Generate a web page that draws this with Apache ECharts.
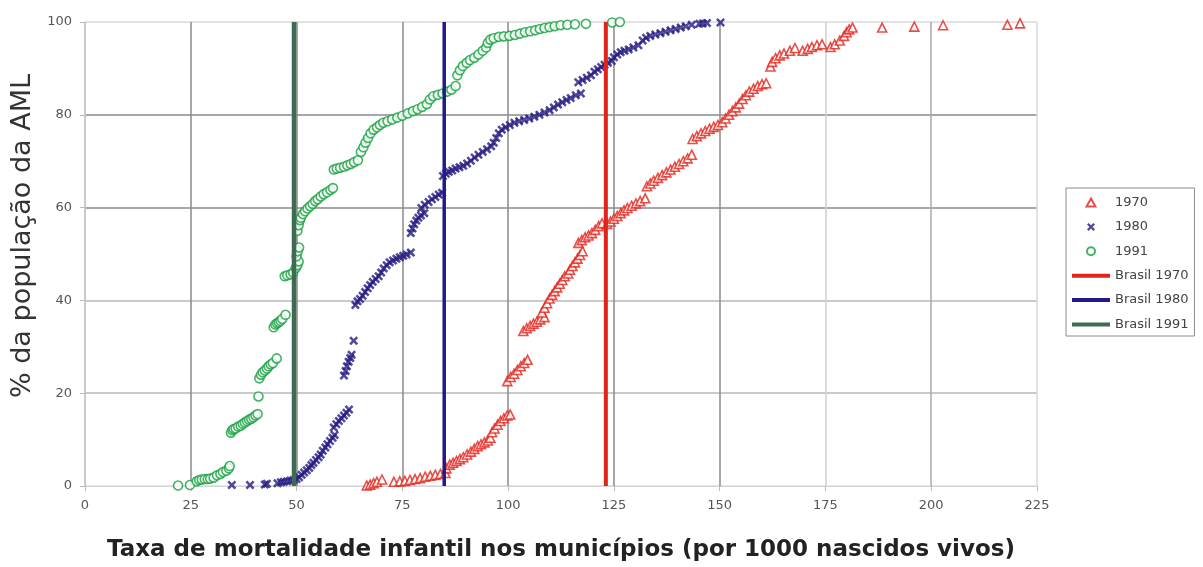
<!DOCTYPE html>
<html>
<head>
<meta charset="utf-8">
<script src="https://cdn.jsdelivr.net/npm/echarts@6/dist/echarts.min.js"></script>
<style>
  html, body { margin: 0; padding: 0; background: #fff; }
  #chart { width: 1203px; height: 567px; }
</style>
</head>
<body>
<div id="chart"></div>
<script>
// Taxa de mortalidade infantil (por 1000 nascidos vivos) vs. % acumulada da população da AML
const xTicks = [0, 25, 50, 75, 100, 125, 150, 175, 200, 225];
const yTicks = [0, 20, 40, 60, 80, 100];

const seriesNames = ['1970', '1980', '1991', 'Brasil 1970', 'Brasil 1980', 'Brasil 1991'];

// Municípios em 1970: [taxa, % acumulada da população]
const mun1970 = [
  [66.6,0.1],[67.4,0.3],[68.2,0.6],[69.0,0.9],[70.2,1.4],
  [73.0,0.9],[74.4,1.0],[75.6,1.1],[76.8,1.3],[78.0,1.5],[79.2,1.7],[80.4,2.0],[81.6,2.2],[82.8,2.4],[84.0,2.6],[85.2,2.8],
  [85.4,3.8],[86.2,4.6],[87.0,5.0],[87.8,5.4],[88.6,5.8],
  [89.4,6.2],[90.3,6.8],[91.2,7.4],[92.0,8.0],[92.8,8.6],[93.6,9.0],[94.4,9.4],[95.2,9.8],[95.8,10.4],
  [96.2,11.6],[96.8,12.4],[97.5,13.2],[98.2,14.0],[99.0,14.6],[99.8,15.2],[100.5,15.4],
  [99.8,22.6],[100.6,23.5],[101.4,24.2],[102.2,25.0],[103.0,25.8],[103.8,26.5],[104.6,27.2],
  [103.6,33.4],[104.4,34.0],[105.2,34.5],[106.0,35.0],[106.8,35.4],[107.6,35.9],[108.6,36.4],
  [108.0,37.4],[108.6,38.4],[109.2,39.4],[109.8,40.4],[110.4,41.2],[111.0,42.0],[111.6,42.8],[112.2,43.6],[112.8,44.4],[113.4,45.2],[114.2,45.8],
  [114.6,46.6],[115.2,47.4],[115.8,48.2],[116.4,49.0],[117.0,49.8],[117.6,50.6],
  [116.6,52.4],[117.4,53.0],[118.2,53.6],[119.0,54.0],[119.8,54.5],[120.6,55.2],[121.4,56.0],[122.2,56.6],
  [123.4,56.5],[124.2,57.0],[125.0,57.6],[125.8,58.2],[126.6,58.8],[127.4,59.4],[128.2,59.9],[129.2,60.4],[130.2,60.9],[131.2,61.4],[132.4,62.0],
  [132.8,64.6],[133.6,65.2],[134.4,65.8],[135.4,66.4],[136.4,67.0],[137.4,67.6],[138.4,68.2],[139.4,68.8],[140.4,69.4],[141.4,70.0],[142.4,70.6],[143.4,71.4],
  [143.6,74.8],[144.6,75.4],[145.6,76.0],[146.6,76.5],[147.6,77.0],[148.6,77.4],[149.6,77.8],[150.6,78.4],[151.4,79.2],[152.2,80.0],[153.0,80.8],
  [153.8,81.6],[154.6,82.4],[155.4,83.4],[156.2,84.2],[157.0,85.0],[158.0,85.6],[159.0,86.2],[160.0,86.6],[161.0,86.8],
  [162.0,90.4],[162.4,91.4],[163.2,92.2],[164.2,92.8],[165.2,93.2],[166.6,93.8],[167.8,94.4],
  [169.6,93.8],[170.8,94.2],[171.8,94.6],[173.0,95.0],[174.2,95.2],
  [176.2,94.6],[177.2,95.2],[178.4,96.0],[179.4,97.0],[180.0,97.8],[180.6,98.4],[181.4,98.8],
  [188.4,98.8],[196.0,99.0],[202.8,99.3],[218.0,99.4],[221.0,99.7]
];

// Municípios em 1980
const mun1980 = [
  [34.7,0.2],[39.0,0.2],[42.5,0.3],[43.0,0.5],[45.5,0.6],[46.3,0.8],[47.0,0.9],[47.8,1.0],[48.6,1.2],[49.3,1.3],[50.0,1.5],
  [50.6,1.9],[51.2,2.4],[51.8,2.9],[52.4,3.4],[53.0,3.9],[53.5,4.5],[54.0,5.0],[54.6,5.6],[55.2,6.2],
  [55.7,6.8],[56.2,7.6],[56.8,8.3],[57.3,9.0],[57.9,9.7],[58.5,10.4],[59.0,11.0],
  [58.8,12.6],[59.4,13.3],[60.0,14.0],[60.6,14.6],[61.2,15.2],[61.8,15.8],[62.4,16.5],
  [61.2,23.8],[61.6,24.8],[61.9,25.8],[62.3,26.8],[62.7,27.6],[63.0,28.3],
  [63.5,31.3],
  [63.9,39.0],[64.4,39.8],[65.0,40.3],[65.6,41.0],[66.2,41.8],[66.8,42.6],[67.4,43.3],[68.0,44.0],[68.7,44.6],[69.4,45.2],[70.0,46.0],
  [70.6,46.9],[71.3,47.6],[72.0,48.2],[72.8,48.6],[73.6,49.0],[74.4,49.3],[75.2,49.6],[76.0,49.9],[77.0,50.3],
  [77.0,54.5],[77.4,55.5],[77.8,56.4],[78.3,57.2],[78.8,57.8],[79.4,58.3],[80.2,58.8],
  [79.5,59.9],[80.3,60.6],[81.2,61.2],[82.0,61.8],[82.8,62.3],[83.6,62.8],[84.4,63.2],
  [84.6,66.8],[85.3,67.3],[86.0,67.7],[86.8,68.0],[87.6,68.4],[88.5,68.7],[89.4,69.0],[90.3,69.5],[91.2,70.1],[92.1,70.8],
  [93.0,71.4],[94.0,72.0],[95.0,72.6],[96.0,73.2],[96.6,74.0],
  [97.2,75.0],[97.8,76.0],[98.5,76.8],[99.4,77.3],[100.4,77.8],
  [101.5,78.3],[102.6,78.6],[103.8,78.9],[105.0,79.2],[106.2,79.6],[107.4,80.0],[108.6,80.5],[109.8,81.0],[110.8,81.6],
  [111.8,82.2],[112.8,82.7],[113.8,83.2],[114.8,83.6],[116.0,84.2],[117.2,84.6],
  [116.6,87.0],[117.6,87.5],[118.6,88.0],[119.6,88.5],
  [120.4,89.3],[121.2,89.8],[122.0,90.3],[122.8,90.8],[123.6,91.2],[124.5,91.6],
  [125.0,92.4],[125.8,93.0],[126.6,93.5],[127.5,93.8],[128.5,94.1],[129.6,94.5],[130.8,95.0],
  [131.8,96.0],[132.6,96.6],[133.6,97.0],[134.8,97.3],[136.0,97.6],[137.2,97.9],[138.4,98.2],[139.6,98.5],[140.8,98.8],
  [142.0,99.1],[143.4,99.4],[145.2,99.6],[146.0,99.7],[147.0,99.8],[150.2,99.9]
];

// Municípios em 1991
const mun1991 = [
  [22.0,0.1],[24.8,0.2],[26.4,1.0],[27.0,1.3],[27.6,1.4],[28.3,1.5],[29.0,1.5],[29.6,1.6],[30.4,1.8],[31.2,2.3],[32.0,2.6],[32.6,3.0],[33.4,3.3],[34.0,3.8],[34.2,4.3],
  [34.5,11.5],[34.8,12.0],[35.1,12.3],[35.6,12.4],[36.2,12.8],[36.8,13.0],[37.3,13.4],[37.8,13.7],[38.3,14.0],[38.8,14.3],[39.3,14.5],[39.8,14.8],[40.3,15.2],[40.8,15.5],
  [41.0,19.3],
  [41.2,23.2],[41.6,24.0],[42.0,24.5],[42.5,24.9],[43.0,25.3],[43.4,25.8],[43.9,26.2],[44.4,26.5],[45.3,27.5],
  [44.6,34.2],[45.0,34.8],[45.4,35.1],[45.8,35.3],[46.2,35.6],[46.6,36.0],[47.4,36.9],
  [47.2,45.2],[47.8,45.4],[48.6,45.6],[49.2,46.0],[49.8,47.0],[50.2,47.6],[50.5,48.4],[50.0,49.5],[50.3,50.6],[50.6,51.4],
  [50.2,55.0],[50.5,56.2],[50.8,57.3],
  [51.0,57.8],[51.5,58.6],[52.0,59.2],[52.6,59.8],[53.2,60.3],[53.8,60.8],[54.4,61.4],[55.0,61.8],[55.7,62.4],[56.4,62.9],[57.2,63.3],[58.0,63.8],[58.6,64.2],
  [58.8,68.2],[59.5,68.4],[60.3,68.6],[61.2,68.8],[62.0,69.1],[62.8,69.4],[63.6,69.8],[64.5,70.2],
  [65.2,72.0],[65.8,73.0],[66.3,74.0],[66.9,75.0],[67.5,76.0],[68.2,76.8],[69.0,77.3],[69.7,77.8],
  [70.5,78.3],[71.5,78.6],[72.6,79.0],[73.8,79.4],[75.0,79.8],[76.3,80.3],[77.5,80.8],[78.6,81.2],[79.7,81.7],[80.8,82.3],
  [81.5,83.3],[82.3,84.0],[83.4,84.3],[84.5,84.6],[85.6,85.0],[86.6,85.4],[87.6,86.2],
  [88.0,88.5],[88.6,89.6],[89.3,90.5],[90.2,91.2],[91.0,91.8],[92.0,92.3],[93.0,93.0],[94.0,93.8],[94.8,94.5],
  [95.2,95.5],[95.8,96.2],[96.6,96.5],[97.8,96.8],[99.0,96.9],[100.3,97.0],[101.6,97.2],[102.8,97.5],
  [104.0,97.8],[105.2,98.0],[106.4,98.2],[107.5,98.5],[108.6,98.7],[109.8,98.9],[111.0,99.1],[112.4,99.3],[114.0,99.4],[115.8,99.5],[118.4,99.6],
  [124.6,99.9],[126.4,100.0]
];

// Taxas médias do Brasil em cada censo
const brasil1970 = 123.1;
const brasil1980 = 84.9;
const brasil1991 = 49.4;

const C_RED = '#e2231a';
const C_NAVY = '#261c80';
const C_GREEN = '#17a040';
const C_GREEN_LINE = '#3f6b52';
const C_NAVY_LINE = '#221a88';

const FONT = '"DejaVu Sans", sans-serif';
// Symbol shapes (path icons keep their aspect ratio inside the legend box)
const crossPath = 'path://M0,2 L2,0 L5,3 L8,0 L10,2 L7,5 L10,8 L8,10 L5,7 L2,10 L0,8 L3,5 Z';
const trianglePath = 'path://M5,0 L10,9 L0,9 Z';
const barPath = 'path://M0,0 L38,0 L38,4 L0,4 Z';

function vline(x) { return [[x, 0], [x, 100]]; }

const chart = echarts.init(document.getElementById('chart'), null, { renderer: 'canvas' });

chart.setOption({
  animation: false,
  backgroundColor: '#ffffff',
  grid: { left: 85, right: 166, top: 22, bottom: 79, containLabel: false },
  xAxis: {
    type: 'value', min: xTicks[0], max: xTicks[xTicks.length - 1], interval: 25,
    name: 'Taxa de mortalidade infantil nos municípios (por 1000 nascidos vivos)',
    nameLocation: 'middle', nameGap: 53,
    nameTextStyle: { fontFamily: FONT, fontSize: 23, fontWeight: 'bold', color: '#222' },
    axisLine: { show: true, lineStyle: { color: '#d4d4d4', width: 1 } },
    axisTick: { show: true, length: 5, lineStyle: { color: '#bbb' } },
    axisLabel: { fontFamily: FONT, fontSize: 13, color: '#555', margin: 13 },
    splitLine: { show: true, lineStyle: { color: ['#bbb', '#8a8a8a', '#8a8a8a', '#8a8a8a', '#8a8a8a', '#8a8a8a', '#8a8a8a', '#cfcfcf', '#a8a8a8', '#d8d8d8'], width: 1.5 } }
  },
  yAxis: {
    type: 'value', min: yTicks[0], max: yTicks[yTicks.length - 1], interval: 20,
    name: '% da população da AML',
    nameLocation: 'middle', nameGap: 40, nameRotate: 90,
    nameTextStyle: { fontFamily: FONT, fontSize: 27, color: '#333', padding: [0, 0, 0, 36] },
    axisLine: { show: true, lineStyle: { color: '#c8c8c8', width: 1 } },
    axisTick: { show: true, length: 5, lineStyle: { color: '#bbb' } },
    axisLabel: { fontFamily: FONT, fontSize: 13, color: '#555', margin: 13 },
    splitLine: { show: true, lineStyle: { color: ['#dcdcdc', '#b8b8b8', '#b8b8b8', '#8a8a8a', '#8a8a8a', '#d8d8d8'], width: 1.5 } }
  },
  legend: {
    orient: 'vertical', left: 1066, top: 188,
    backgroundColor: '#fff', borderColor: '#8c8c8c', borderWidth: 1,
    padding: [8, 6, 5, 6], itemGap: 11.4, itemWidth: 38, itemHeight: 8,
    symbolKeepAspect: true,
    textStyle: { fontFamily: FONT, fontSize: 13, color: '#444' },
    data: [
      { name: seriesNames[0], icon: trianglePath },
      { name: seriesNames[1], icon: crossPath },
      { name: seriesNames[2], icon: 'circle' },
      { name: seriesNames[3], icon: barPath },
      { name: seriesNames[4], icon: barPath },
      { name: seriesNames[5], icon: barPath }
    ]
  },
  series: [
    {
      name: seriesNames[0], type: 'scatter', data: mun1970,
      symbol: 'triangle', symbolSize: 9,
      itemStyle: { color: '#fff', borderColor: C_RED, borderWidth: 1.6 }
    },
    {
      name: seriesNames[1], type: 'scatter', data: mun1980,
      symbol: crossPath, symbolSize: 9,
      itemStyle: { color: C_NAVY }
    },
    {
      name: seriesNames[2], type: 'scatter', data: mun1991,
      symbol: 'circle', symbolSize: 9,
      itemStyle: { color: '#fff', borderColor: C_GREEN, borderWidth: 1.6 }
    },
    {
      name: seriesNames[3], type: 'line', data: vline(brasil1970), symbol: 'none',
      lineStyle: { color: C_RED, width: 4 }, itemStyle: { color: C_RED }, z: 3
    },
    {
      name: seriesNames[4], type: 'line', data: vline(brasil1980), symbol: 'none',
      lineStyle: { color: C_NAVY_LINE, width: 3.5 }, itemStyle: { color: C_NAVY_LINE }, z: 3
    },
    {
      name: seriesNames[5], type: 'line', data: vline(brasil1991), symbol: 'none',
      lineStyle: { color: C_GREEN_LINE, width: 4.5 }, itemStyle: { color: C_GREEN_LINE }, z: 3
    }
  ]
});
</script>
</body>
</html>
